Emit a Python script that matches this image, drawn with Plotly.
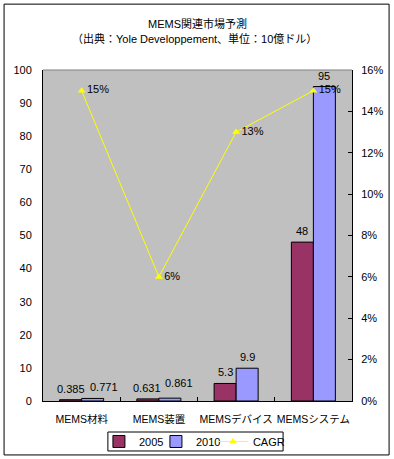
import plotly.graph_objects as go

categories = ["MEMS材料", "MEMS装置", "MEMSデバイス", "MEMSシステム"]
v2005 = [0.385, 0.631, 5.3, 48]
v2010 = [0.771, 0.861, 9.9, 95]
cagr = [0.15, 0.06, 0.13, 0.15]
t2005 = ["0.385", "0.631", "5.3", "48"]
t2010 = ["0.771", "0.861", "9.9", "95"]
tcagr = ["15%", "6%", "13%", "15%"]

FONT = "Liberation Sans, Noto Sans CJK JP, sans-serif"

fig = go.Figure()
fig.add_trace(go.Bar(x=categories, y=v2005, name="2005",
                     marker=dict(color="#993366", line=dict(color="black", width=1))))
fig.add_trace(go.Bar(x=categories, y=v2010, name="2010",
                     marker=dict(color="#9999FF", line=dict(color="black", width=1))))
fig.add_trace(go.Scatter(x=categories, y=cagr, name="CAGR", yaxis="y2", mode="lines+markers+text",
                         line=dict(color="#FFFF00", width=1), marker=dict(symbol="triangle-up", size=7, color="#FFFF00"),
                         text=tcagr, textposition="middle right", textfont=dict(size=11, color="black"), cliponaxis=False))
# empty spacer entry so the last legend label is not clipped
fig.add_trace(go.Scatter(x=[None], y=[None], mode="none", name=" ", showlegend=True, hoverinfo="skip"))

# bar value labels (Excel-style placement above each bar, with small nudges where labels would collide)
annotations = []
nudge2005 = [(0, 0), (-1, 0), (0, 0), (0, 0)]
nudge2010 = [(11, 0), (9, 4), (0, 0), (0, 0)]
for i, c in enumerate(categories):
    for vals, texts, dx, nudges in ((v2005, t2005, -11, nudge2005), (v2010, t2010, 11, nudge2010)):
        annotations.append(dict(x=c, y=vals[i], xref="x", yref="y", text=texts[i], showarrow=False,
                                xanchor="center", yanchor="middle",
                                xshift=dx + nudges[i][0], yshift=11 + nudges[i][1],
                                font=dict(size=11, color="black")))

annotations += [
    dict(text="MEMS関連市場予測", xref="paper", yref="paper", x=0.5, y=1.14, xanchor="center",
         yanchor="middle", showarrow=False, font=dict(size=11)),
    dict(text="（出典：Yole Developpement、単位：10億ドル）", xref="paper", yref="paper", x=0.49, y=1.094,
         xanchor="center", yanchor="middle", showarrow=False, font=dict(size=11)),
]

fig.update_layout(
    width=394, height=459,
    margin=dict(l=43, r=42, t=70, b=58, autoexpand=False),
    paper_bgcolor="white", plot_bgcolor="#C0C0C0",
    font=dict(family=FONT, size=11, color="black"),
    barmode="group", bargap=0.43, bargroupgap=0,
    showlegend=True,
    legend=dict(orientation="h", x=0.181, xanchor="left", y=-0.0785, yanchor="top",
                bgcolor="rgba(0,0,0,0)", borderwidth=0, font=dict(size=11), traceorder="normal",
                itemwidth=30, entrywidth=12, entrywidthmode="pixels", tracegroupgap=0),
    xaxis=dict(showline=True, linecolor="black", linewidth=1, ticks="inside", tickcolor="black",
               showgrid=False, tickson="boundaries", ticklen=4, tickangle=0, automargin=False,
               ticklabelstandoff=8, tickfont=dict(size=10.5)),
    yaxis=dict(range=[0, 100], dtick=10, showline=True, linecolor="black", linewidth=1, ticks="",
               showgrid=False, zeroline=False, automargin=False, ticklabelstandoff=8,
               tickfont=dict(size=11)),
    yaxis2=dict(range=[0, 0.16], dtick=0.02, tickformat=".0%", overlaying="y", side="right", showline=True,
                linecolor="black", linewidth=1, ticks="inside", tickcolor="black", ticklen=4,
                showgrid=False, zeroline=False, automargin=False, ticklabelstandoff=6,
                tickfont=dict(size=11)),
    annotations=annotations,
    shapes=[
        dict(type="line", xref="paper", yref="paper", x0=0, x1=1, y0=1, y1=1, line=dict(color="#808080", width=1)),
        dict(type="rect", xref="paper", yref="paper", x0=-0.126, x1=1.12, y0=-0.163, y1=1.199,
             line=dict(color="black", width=1)),
        # legend frame
        dict(type="rect", xref="paper", yref="paper", x0=0.210, x1=0.777, y0=-0.151, y1=-0.0937,
             line=dict(color="black", width=1)),
    ],
)

fig.write_html("out.html", post_script="document.body.style.margin='0px';", config={"displayModeBar": False})
